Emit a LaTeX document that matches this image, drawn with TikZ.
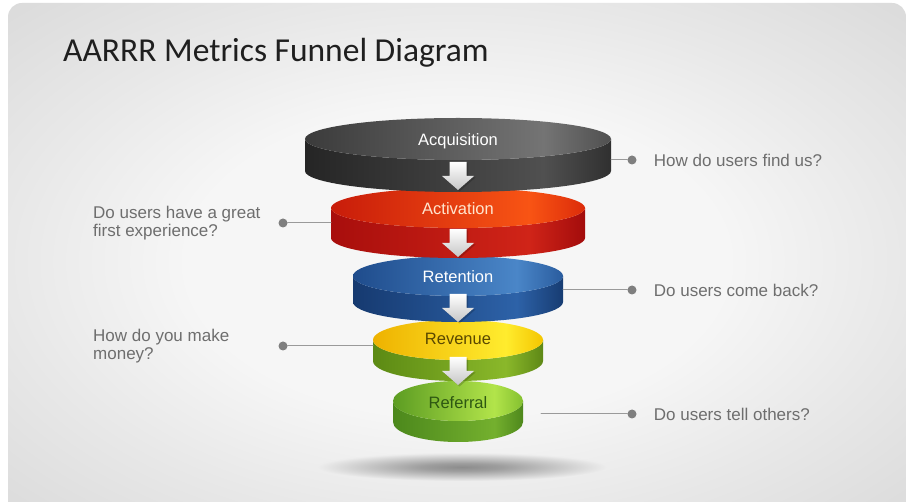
\documentclass[tikz,border=0pt]{standalone}
\usepackage{fontspec}
\setmainfont{Liberation Sans}
\newfontfamily\titlefont{Carlito}
\usetikzlibrary{positioning}

% Màu nền và chữ
\definecolor{bgmid}{HTML}{F6F6F6}
\definecolor{bgedge}{HTML}{E8E8E8}
\definecolor{bgcorner}{HTML}{DADADA}
\definecolor{askgray}{HTML}{6E6E6E}
\definecolor{dotgray}{HTML}{7F7F7F}
\definecolor{leadgray}{HTML}{9A9A9A}
\definecolor{revtext}{HTML}{5A4800}
\definecolor{reftext}{HTML}{2E5812}
\definecolor{acttext}{HTML}{FFE6CF}

% Màu các tầng phễu
\definecolor{acqA}{HTML}{3B3B3B}\definecolor{acqB}{HTML}{747474}\definecolor{acqC}{HTML}{505050}
\definecolor{acqD}{HTML}{252525}\definecolor{acqE}{HTML}{505050}\definecolor{acqF}{HTML}{303030}
\definecolor{actA}{HTML}{C81C0A}\definecolor{actB}{HTML}{F85414}\definecolor{actC}{HTML}{DC2C0A}
\definecolor{actD}{HTML}{A80E0C}\definecolor{actE}{HTML}{D02418}\definecolor{actF}{HTML}{A30C0C}
\definecolor{retA}{HTML}{1F4C8C}\definecolor{retB}{HTML}{4A86C8}\definecolor{retC}{HTML}{2A5C9E}
\definecolor{retD}{HTML}{163A70}\definecolor{retE}{HTML}{2D62A8}\definecolor{retF}{HTML}{173C72}
\definecolor{revA}{HTML}{EEB200}\definecolor{revB}{HTML}{FFEC2E}\definecolor{revC}{HTML}{F4C600}
\definecolor{revD}{HTML}{5C8A14}\definecolor{revE}{HTML}{8AB82A}\definecolor{revF}{HTML}{5E8816}
\definecolor{refA}{HTML}{5C9C22}\definecolor{refB}{HTML}{B2E44A}\definecolor{refC}{HTML}{84C030}
\definecolor{refD}{HTML}{4C881C}\definecolor{refE}{HTML}{74B02E}\definecolor{refF}{HTML}{4E881C}

\newcommand\funnelshade[4]{\pgfdeclarehorizontalshading{#1}{100bp}{color(0bp)=(#2); color(25bp)=(#2); color(64bp)=(#3); color(75bp)=(#4); color(100bp)=(#4)}}
\funnelshade{topacq}{acqA}{acqB}{acqC}\funnelshade{sideacq}{acqD}{acqE}{acqF}
\funnelshade{topact}{actA}{actB}{actC}\funnelshade{sideact}{actD}{actE}{actF}
\funnelshade{topret}{retA}{retB}{retC}\funnelshade{sideret}{retD}{retE}{retF}
\funnelshade{toprev}{revA}{revB}{revC}\funnelshade{siderev}{revD}{revE}{revF}
\funnelshade{topref}{refA}{refB}{refC}\funnelshade{sideref}{refD}{refE}{refF}
\pgfdeclareradialshading{slidebg}{\pgfpoint{0bp}{0bp}}{color(0bp)=(bgmid); color(15bp)=(bgmid); color(25bp)=(bgedge); color(36bp)=(bgcorner); color(50bp)=(bgcorner)}
\pgfdeclareradialshading{floorshadow}{\pgfpoint{0bp}{0bp}}{color(0bp)=(black!45); color(7bp)=(black!38); color(25bp)=(white!93!black); color(50bp)=(white!93!black)}

\begin{document}
\begin{tikzpicture}[line cap=round,line join=round,x=1pt,y=-1pt,
dot/.style={circle,fill=dotgray,inner sep=0pt,minimum size=9pt},
lead/.style={draw=leadgray,line width=1pt},
ask/.style={text=askgray,inner sep=0pt,font=\fontsize{17}{18.5}\selectfont},
stage/.style={inner sep=0pt,anchor=base,font=\fontsize{16.5}{20}\selectfont}]
% Vẽ nền
\useasboundingbox (0,0) rectangle (916,502);
\fill[white] (0,0) rectangle (916,502);
\shade[shading=slidebg,rounded corners=14pt] (8,3) rectangle (906,520);
\node[anchor=base west,inner sep=0pt,text=black!88,
font=\titlefont\fontsize{33.5}{40}\selectfont] (title) at (63,62)
{AARRR Metrics Funnel Diagram};
% Bóng dưới phễu
\shade[shading=floorshadow] (462,467) ellipse [x radius=145, y radius=14];
%Vẽ các tầng phễu, từ dưới lên
\foreach \n/\a/\b/\yt/\yb in {ref/65/20/401/422, rev/85/20/340/361,
ret/105/20/276/302, act/127/20/208/238, acq/153/21/139/171}
{
\shade[shading=side\n] (458-\a,\yt) -- (458-\a,\yb)
arc[start angle=180,end angle=0,x radius=\a,y radius=\b]
-- (458+\a,\yt) arc[start angle=0,end angle=180,x radius=\a,y radius=\b]
-- cycle;
\shade[shading=top\n] (458,\yt) ellipse [x radius=\a, y radius=\b];
}
% Vẽ mũi tên trắng
\foreach \y in {162,229,294,357}
{
\fill[black,opacity=0.18] (459.5-8.5,\y+1.5) -- (459.5+8.5,\y+1.5)
-- (459.5+8.5,\y+15.5) -- (459.5+16,\y+15.5) -- (459.5,\y+29.5)
-- (459.5-16,\y+15.5) -- (459.5-8.5,\y+15.5) -- cycle;
\shade[top color=white,bottom color=gray!45] (458-8.5,\y) -- (458+8.5,\y)
-- (458+8.5,\y+14) -- (458+16,\y+14) -- (458,\y+28)
-- (458-16,\y+14) -- (458-8.5,\y+14) -- cycle;
}
% Tên các tầng
\node[stage,text=white] (acq) at (458,146) {Acquisition};
\node[stage,text=acttext] (act) at (458,215) {Activation};
\node[stage,text=white] (ret) at (458,283) {Retention};
\node[stage,text=revtext] (rev) at (458,345) {Revenue};
\node[stage,text=reftext] (ref) at (458,409) {Referral};
% Các câu hỏi bên phải
\node[dot] (dacq) at (632,160) {};
\node[dot] (dret) at (632,290) {};
\node[dot] (dref) at (632,414) {};
\coordinate (eacq) at (611,160);
\coordinate (eret) at (563,290);
\coordinate (eref) at (541,414);
\draw[lead] (eacq) -- (dacq);
\draw[lead] (eret) -- (dret);
\draw[lead] (eref) -- (dref);
\node[ask,right=17pt of dacq] (qacq) {How do users find us?};
\node[ask,right=17pt of dret] (qret) {Do users come back?};
\node[ask,right=17pt of dref] (qref) {Do users tell others?};
% Các câu hỏi bên trái
\node[dot] (dact) at (283,223) {};
\node[dot] (drev) at (283,346) {};
\coordinate (eact) at (331,223);
\coordinate (erev) at (373,346);
\draw[lead] (dact) -- (eact);
\draw[lead] (drev) -- (erev);
\node[ask,anchor=west,align=left] (qact) at (93,223)
{Do users have a great\\first experience?};
\node[ask,anchor=west,align=left] (qrev) at (93,346)
{How do you make\\money?};
\end{tikzpicture}
\end{document}
